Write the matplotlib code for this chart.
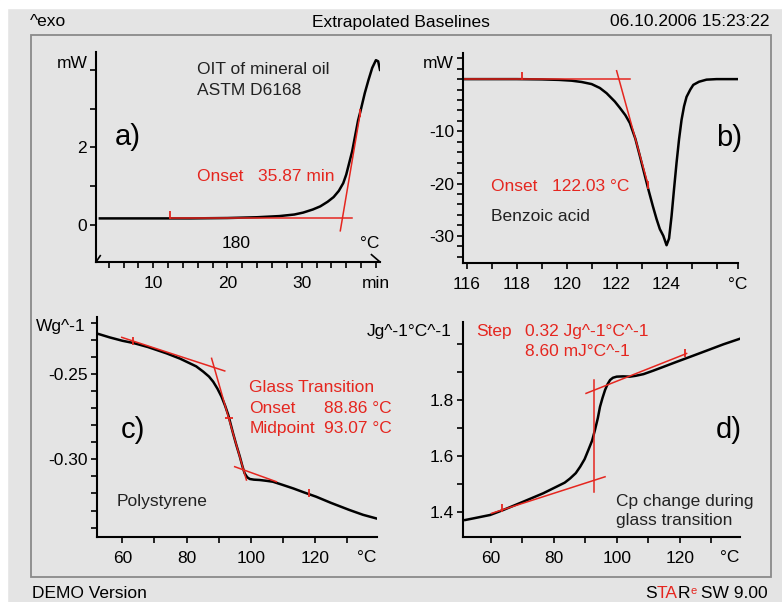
import matplotlib.pyplot as plt
from matplotlib.patches import Rectangle
from matplotlib.offsetbox import TextArea, HPacker, AnnotationBbox

plt.rcParams['font.family'] = ['Liberation Sans', 'DejaVu Sans']

W, H = 782, 602
BG = '#e4e4e4'
RED = '#e5261f'

# a) OIT of mineral oil, heat flow vs time
a_time = [2.8, 10, 15, 20, 24, 27, 29, 30.2, 31.5, 32.5, 33.5, 34.3, 35.0, 35.6,
          36.0, 36.4, 36.8, 37.2, 37.6, 37.9, 38.5, 39.0, 39.5, 40.0, 40.3, 40.55]
a_heat = [0.17, 0.17, 0.17, 0.18, 0.20, 0.23, 0.27, 0.32, 0.40, 0.48, 0.60, 0.72, 0.88, 1.08,
          1.30, 1.60, 1.90, 2.30, 2.70, 2.92, 3.40, 3.74, 4.05, 4.25, 4.22, 4.00]

# b) benzoic acid melting peak
b_temp = [115.85, 117, 118, 119, 119.7, 120.2, 120.6, 121.0, 121.33, 121.6, 121.93, 122.13,
          122.35, 122.53, 122.75, 122.93, 123.1, 123.27, 123.45, 123.6, 123.73, 123.87, 124.0,
          124.1, 124.2, 124.3, 124.4, 124.5, 124.6, 124.7, 124.8, 124.95, 125.07, 125.3,
          125.6, 126.0, 126.86]
b_heat = [0, 0, 0, -0.05, -0.15, -0.3, -0.55, -0.95, -1.7, -2.7, -4.3, -5.5,
          -6.9, -8.4, -11.4, -14.7, -17.9, -21.1, -24.3, -26.8, -28.7, -30.0, -31.8,
          -30.5, -26.2, -21.0, -16.0, -11.5, -7.8, -5.2, -3.4, -2.0, -1.1, -0.5,
          -0.1, 0, 0]

# c) polystyrene glass transition
c_temp = [52.0, 56, 60, 63.4, 68, 73.8, 78, 80, 83, 85.2, 87, 88.3, 89.6, 90.9, 92, 93.0,
          94.5, 95.5, 96.6, 97.4, 98.1, 98.9, 99.7, 101, 102.8, 105, 106.9, 110, 113.2,
          116.5, 120.4, 125, 130.8, 135, 139.1]
c_heat = [-0.2262, -0.2285, -0.2305, -0.2318, -0.2342, -0.2379, -0.2410, -0.2428, -0.2455,
          -0.2486, -0.2515, -0.2545, -0.2585, -0.2633, -0.2685, -0.2740, -0.2848, -0.2915,
          -0.2984, -0.3040, -0.3082, -0.3105, -0.3115, -0.3119, -0.3121, -0.3126, -0.3131,
          -0.3150, -0.3170, -0.3193, -0.3219, -0.3255, -0.3297, -0.3325, -0.3346]

# d) heat capacity step
d_temp = [51.9, 55, 59.8, 64.0, 70.4, 76.7, 81.0, 83.5, 85.2, 87, 88.4, 89.8, 91.0, 92.2,
          93.1, 94.0, 94.7, 95.5, 96.3, 97.1, 97.9, 98.8, 100.0, 102, 104.2, 106, 108.5,
          111.5, 114.8, 119, 123.3, 128.5, 133.9, 139.4]
d_cp = [1.370, 1.377, 1.388, 1.406, 1.436, 1.466, 1.490, 1.504, 1.519, 1.538, 1.561, 1.588,
        1.621, 1.655, 1.693, 1.735, 1.776, 1.808, 1.836, 1.857, 1.872, 1.880, 1.884, 1.885,
        1.884, 1.887, 1.893, 1.905, 1.919, 1.937, 1.955, 1.977, 2.000, 2.021]

# red evaluation lines (x pair, y pair)
a_red = [([12.3, 36.8], [0.17, 0.17]), ([35.2, 37.9], [-0.15, 2.9])]
b_red = [([115.87, 122.53], [0, 0]), ([122.0, 123.27], [1.6, -20.4])]
c_red = [([59.8, 91.9], [-0.2285, -0.2482]), ([87.8, 98.65], [-0.2408, -0.3121]),
         ([95.0, 108.0], [-0.3043, -0.3131])]
d_red = [([60.3, 96.3], [1.394, 1.525]), ([90.26, 122.2], [1.824, 1.967]),
         ([92.8, 92.8], [1.872, 1.472])]

fig = plt.figure(figsize=(W / 100, H / 100), dpi=100, facecolor=BG)
fig.patches.append(Rectangle((0, 1 - 8 / H), 1, 8 / H, transform=fig.transFigure,
                             color='white', zorder=0))
fig.patches.append(Rectangle((0, 0), 7 / W, 1, transform=fig.transFigure,
                             color='white', zorder=0))
fig.patches.append(Rectangle((31 / W, 1 - 577 / H), 740 / W, 542 / H, transform=fig.transFigure,
                             fill=False, ec='#8a8a8a', lw=1.3))


def px_axes(left, top, right, bottom):
    return fig.add_axes([left / W, 1 - bottom / H, (right - left) / W, (bottom - top) / H])


def style(ax):
    ax.set_facecolor('none')
    ax.spines['top'].set_visible(False)
    ax.spines['right'].set_visible(False)
    ax.spines['left'].set_linewidth(1.5)
    ax.spines['bottom'].set_linewidth(1.5)
    ax.tick_params(which='both', direction='out', length=4.5, width=1.2, labelsize=12.5)
    ax.tick_params(axis='x', pad=5.5)
    ax.tick_params(axis='y', pad=2)


def unit(ax, txt, y, dx):
    ax.annotate(txt, xy=(0, y), xycoords=('axes fraction', 'data'), xytext=(-dx, 0),
                textcoords='offset points', ha='right', va='center', fontsize=12.5)


def xunit(ax, x):
    ax.annotate('°C', xy=(x, 0), xycoords=('data', 'axes fraction'), xytext=(0, -14.5),
                textcoords='offset points', ha='center', va='center', fontsize=12.5)


txt = dict(fontsize=12.5, va='center')
LW = 1.8

# ---- a)
ax1 = px_axes(96, 52, 380, 262)
style(ax1)
ax1.plot(a_time, a_heat, color='black', lw=LW)
for xs, ys in a_red:
    ax1.plot(xs, ys, color=RED, lw=1.1)
ax1.plot([12.3, 37.9], [0.25, 2.9], '|', color=RED, ms=6, mew=1.3)
ax1.set_xlim(2.28, 40.55)
ax1.set_ylim(-0.954, 4.46)
ax1.set_xticks([10, 20, 30, 40], ['10', '20', '30', 'min'])
ax1.set_xticks([4, 6, 8, 12, 14, 16, 18, 22, 24, 26, 28, 32, 34, 36, 38], minor=True)
ax1.set_yticks([0, 2, 4], ['0', '2', ''])
ax1.set_yticks([1, 3], minor=True)
ax1.plot([0, 0.015], [0, 0.03], transform=ax1.transAxes, color='black', lw=1.2, clip_on=False)
ax1.plot([0.97, 1], [0.035, 0], transform=ax1.transAxes, color='black', lw=1.2, clip_on=False)
unit(ax1, 'mW', 4.17, 6.3)
ax1.text(15.85, 4.01, 'OIT of mineral oil', color='#222222', **txt)
ax1.text(15.85, 3.48, 'ASTM D6168', color='#222222', **txt)
ax1.text(4.84, 2.28, 'a)', fontsize=21, va='center')
ax1.text(15.85, 1.245, 'Onset   35.87 min', color=RED, **txt)
ax1.text(21.2, -0.47, '180', ha='center', **txt)
ax1.text(39.2, -0.47, '°C', ha='center', **txt)

# ---- b)
ax2 = px_axes(463, 53, 738, 263)
style(ax2)
ax2.plot(b_temp, b_heat, color='black', lw=LW)
for xs, ys in b_red:
    ax2.plot(xs, ys, color=RED, lw=1.1)
ax2.plot([118.2, 123.25], [0.6, -20.2], '|', color=RED, ms=6, mew=1.3)
ax2.set_xlim(115.85, 126.86)
ax2.set_ylim(-35.2, 5.0)
ax2.set_xticks([116, 118, 120, 122, 124, 126.86], ['116', '118', '120', '122', '124', '°C'])
ax2.set_xticks([117, 119, 121, 123, 125, 126], minor=True)
ax2.set_yticks([-10, -20, -30], ['-10', '-20', '-30'])
ax2.set_yticks([v for v in range(-34, 5, 2) if v % 10 != 0 or v == 0], minor=True)
unit(ax2, 'mW', 3.0, 7)
ax2.text(126.0, -11.26, 'b)', fontsize=21, va='center')
ax2.text(116.96, -20.5, 'Onset   122.03 °C', color=RED, **txt)
ax2.text(116.96, -26.3, 'Benzoic acid', color='#222222', **txt)

# ---- c)
ax3 = px_axes(96.7, 316.7, 376.7, 537)
style(ax3)
ax3.plot(c_temp, c_heat, color='black', lw=LW)
for xs, ys in c_red:
    ax3.plot(xs, ys, color=RED, lw=1.1)
ax3.plot([63.4, 118.3], [-0.2305, -0.3200], '|', color=RED, ms=6, mew=1.3)
ax3.plot([93.2], [-0.2758], '_', color=RED, ms=6, mew=1.3)
ax3.set_xlim(52.0, 139.25)
ax3.set_ylim(-0.3455, -0.2164)
ax3.set_xticks([60, 80, 100, 120])
ax3.set_xticks([70, 90, 110, 130], minor=True)
ax3.set_yticks([-0.25, -0.30], ['-0.25', '-0.30'])
ax3.set_yticks([-0.34, -0.33, -0.32, -0.31, -0.29, -0.28, -0.27, -0.26, -0.24, -0.23, -0.22],
               minor=True)
unit(ax3, 'Wg^-1', -0.2223, 7.7)
xunit(ax3, 136.1)
ax3.text(59.5, -0.2828, 'c)', fontsize=21, va='center')
ax3.text(99.56, -0.2578, 'Glass Transition', color=RED, **txt)
ax3.text(99.56, -0.2701, 'Onset', color=RED, **txt)
ax3.text(143.9, -0.2701, '88.86 °C', color=RED, ha='right', **txt)
ax3.text(99.56, -0.2818, 'Midpoint', color=RED, **txt)
ax3.text(143.9, -0.2818, '93.07 °C', color=RED, ha='right', **txt)
ax3.text(58.3, -0.3249, 'Polystyrene', color='#222222', **txt)

# ---- d)
ax4 = px_axes(462.7, 321.7, 740, 537.3)
style(ax4)
ax4.plot(d_temp, d_cp, color='black', lw=LW)
for xs, ys in d_red:
    ax4.plot(xs, ys, color=RED, lw=1.1)
ax4.plot([63.5, 121.7], [1.412, 1.968], '|', color=RED, ms=6, mew=1.3)
ax4.set_xlim(51.1, 139.15)
ax4.set_ylim(1.308, 2.081)
ax4.set_xticks([60, 80, 100, 120])
ax4.set_xticks([70, 90, 110, 130], minor=True)
ax4.set_yticks([1.4, 1.6, 1.8, 2.0], ['1.4', '1.6', '1.8', ''])
ax4.set_yticks([1.5, 1.7, 1.9], minor=True)
unit(ax4, 'Jg^-1°C^-1', 2.045, 8)
xunit(ax4, 136)
ax4.text(55.3, 2.045, 'Step', color=RED, **txt)
ax4.text(70.9, 2.045, '0.32 Jg^-1°C^-1', color=RED, **txt)
ax4.text(70.9, 1.973, '8.60 mJ°C^-1', color=RED, **txt)
ax4.text(131.5, 1.6925, 'd)', fontsize=21, va='center')
ax4.text(99.8, 1.436, 'Cp change during', color='#222222', **txt)
ax4.text(99.8, 1.368, 'glass transition', color='#222222', **txt)

# header / footer
fig.text(30 / W, 1 - 22 / H, '^exo', fontsize=12.5, va='center')
fig.text(401 / W, 1 - 22 / H, 'Extrapolated Baselines', fontsize=12.5, va='center', ha='center')
fig.text(770 / W, 1 - 22 / H, '06.10.2006 15:23:22', fontsize=12.5, va='center', ha='right')
fig.text(32 / W, 1 - 593 / H, 'DEMO Version', fontsize=12.5, va='center')

parts = [TextArea('S', textprops=dict(fontsize=12.5, color='black')),
         TextArea('TA', textprops=dict(fontsize=12.5, color=RED)),
         TextArea('R', textprops=dict(fontsize=12.5, color='black')),
         TextArea('e', textprops=dict(fontsize=8, color=RED)),
         TextArea(' SW 9.00', textprops=dict(fontsize=12.5, color='black'))]
box = HPacker(children=parts, align='top', pad=0, sep=0)
ab = AnnotationBbox(box, (768 / W, 1 - 593 / H), xycoords='figure fraction',
                    box_alignment=(1, 0.5), frameon=False)
fig.add_artist(ab)

fig.savefig('out.png', dpi=100, facecolor=BG)
